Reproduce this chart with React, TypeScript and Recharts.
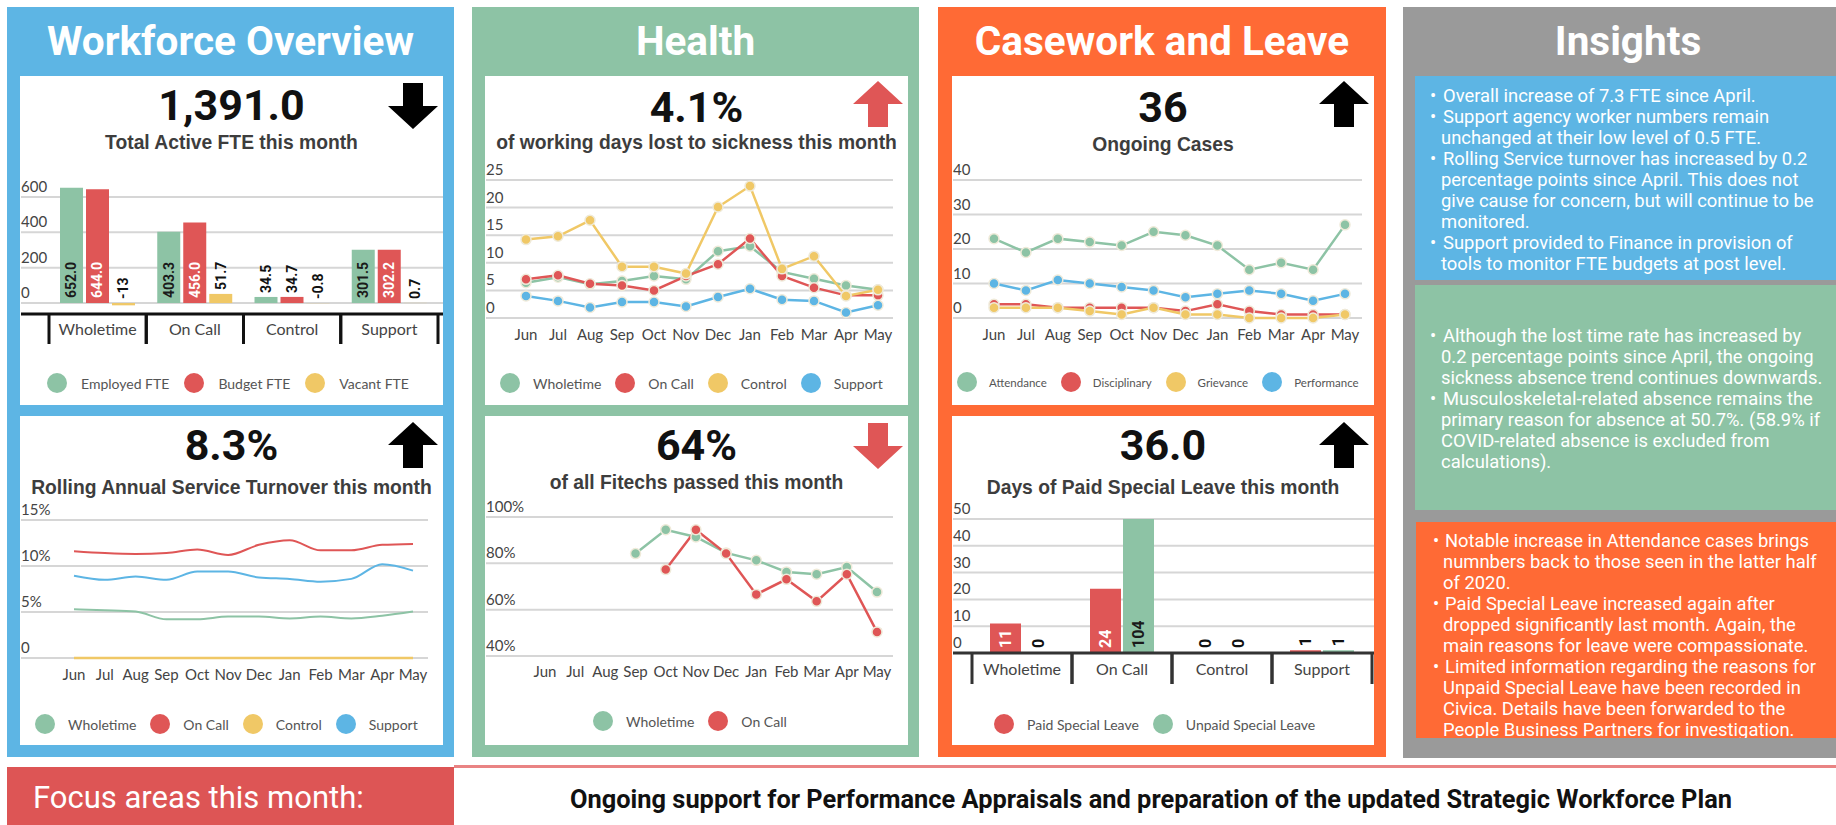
import React from 'react';
import { BarChart, Bar, LineChart, Line, XAxis, YAxis, CartesianGrid, LabelList } from 'recharts';

// ---------- colours ----------
const GREEN = '#8DC3A5';
const RED = '#DF5656';
const YELLOW = '#F0C866';
const BLUE = '#5DB5E4';
const ORANGE = '#FF6A35';
const GRAY = '#9A9A9A';
const HALO = '#EFEAD9';

const F_LATO = 'Lato, "Open Sans", sans-serif';
const F_ROBOTO = 'Roboto, "Noto Sans", sans-serif';
const F_ARIAL = '"Liberation Sans", Arial, sans-serif';

// ---------- data ----------
const fteCategories = ['Wholetime', 'On Call', 'Control', 'Support'];
const employedFTE = [652.0, 403.3, 34.5, 301.5];
const budgetFTE = [644.0, 456.0, 34.7, 302.2];
const vacantFTE = [-13, 51.7, -0.8, 0.7];

const months = ['Jun', 'Jul', 'Aug', 'Sep', 'Oct', 'Nov', 'Dec', 'Jan', 'Feb', 'Mar', 'Apr', 'May'];

const turnoverWholetime = [5.3, 5.2, 5.05, 4.2, 4.2, 4.5, 4.5, 4.3, 4.5, 4.3, 4.6, 5.05];
const turnoverOnCall = [11.6, 11.4, 11.3, 11.4, 11.8, 11.2, 12.3, 12.8, 11.7, 11.7, 12.3, 12.4];
const turnoverControl = [0, 0, 0, 0, 0, 0, 0, 0, 0, 0, 0, 0];
const turnoverSupport = [8.95, 8.5, 8.85, 8.5, 9.4, 9.4, 8.75, 8.6, 8.3, 8.6, 10.2, 9.5];

const sickWholetime = [6.4, 7.4, 6.1, 6.7, 7.6, 7.0, 12.1, 13.0, 8.35, 7.1, 5.9, 5.1];
const sickOnCall = [7.0, 7.75, 6.2, 5.9, 5.0, 7.6, 9.75, 14.4, 7.6, 5.5, 4.1, 4.1];
const sickControl = [14.2, 14.8, 17.7, 9.3, 9.3, 8.05, 20.1, 23.9, 8.9, 11.2, 4.0, 5.1];
const sickSupport = [4.0, 3.1, 1.9, 2.9, 2.9, 2.1, 3.8, 5.3, 3.3, 3.1, 1.0, 2.3];

const fitechWholetime = [null, null, null, 84.2, 94.5, 91.4, 84.5, 81.3, 76.3, 75.3, 78.4, 67.6];
const fitechOnCall = [null, null, null, null, 77.3, 94.5, 84.2, 66.6, 73.1, 63.6, 75.3, 50.4];

const casesAttendance = [23, 19, 23, 22, 21, 25, 24, 21, 14, 16, 14, 27];
const casesDisciplinary = [4, 4, 3, 3, 3, 3, 2, 4, 2, 1, 1, 1];
const casesGrievance = [3, 3, 3, 2, 1, 3, 1, 1, 0, 0, 0, 1];
const casesPerformance = [10, 8, 11, 10, 9, 8, 6, 7, 8, 7, 5, 7];

const leaveCategories = ['Wholetime', 'On Call', 'Control', 'Support'];
const paidLeave = [11, 24, 0, 1];
const unpaidLeave = [0, 104, 0, 1];

const fteTicks = [0, 200, 400, 600];
const turnoverTicks = [0, 5, 10, 15];
const sickTicks = [0, 5, 10, 15, 20, 25];
const fitechTicks = [40, 60, 80, 100];
const casesTicks = [0, 10, 20, 30, 40];
const leaveTicks = [0, 10, 20, 30, 40, 50];

const blueInsights = [
  ['Overall increase of 7.3 FTE since April.'],
  ['Support agency worker numbers remain', 'unchanged at their low level of 0.5 FTE.'],
  ['Rolling Service turnover has increased by 0.2', 'percentage points since April. This does not', 'give cause for concern, but will continue to be', 'monitored.'],
  ['Support provided to Finance in provision of', 'tools to monitor FTE budgets at post level.'],
];
const greenInsights = [
  ['Although the lost time rate has increased by', '0.2 percentage points since April, the ongoing', 'sickness absence trend continues downwards.'],
  ['Musculoskeletal-related absence remains the', 'primary reason for absence at 50.7%. (58.9% if', 'COVID-related absence is excluded from', 'calculations).'],
];
const orangeInsights = [
  ['Notable increase in Attendance cases brings', 'numnbers back to those seen in the latter half', 'of 2020.'],
  ['Paid Special Leave increased again after', 'dropped significantly last month. Again, the', 'main reasons for leave were compassionate.'],
  ['Limited information regarding the reasons for', 'Unpaid Special Leave have been recorded in', 'Civica. Details have been forwarded to the', 'People Business Partners for investigation.'],
];

// ---------- tables built from arrays ----------
const fteData = fteCategories.map((cat, i) => ({ cat, employed: employedFTE[i], budget: budgetFTE[i], vacant: vacantFTE[i] }));
const turnoverData = months.map((m, i) => ({ m, wholetime: turnoverWholetime[i], oncall: turnoverOnCall[i], control: turnoverControl[i], support: turnoverSupport[i] }));
const sickData = months.map((m, i) => ({ m, wholetime: sickWholetime[i], oncall: sickOnCall[i], control: sickControl[i], support: sickSupport[i] }));
const fitechData = months.map((m, i) => ({ m, wholetime: fitechWholetime[i], oncall: fitechOnCall[i] }));
const casesData = months.map((m, i) => ({ m, attendance: casesAttendance[i], disciplinary: casesDisciplinary[i], grievance: casesGrievance[i], performance: casesPerformance[i] }));
const leaveData = leaveCategories.map((cat, i) => ({ cat, paid: paidLeave[i], unpaid: unpaidLeave[i] }));

// ---------- helpers ----------
const fmt1 = (v: number) => v.toFixed(1);
const fmtVac = (v: number) => (Number.isInteger(v) ? String(v) : v.toFixed(1));
const fmtInt = (v: number) => String(v);
const fmtPct = (v: number) => (v === 0 ? '0' : `${v}%`);

function YTick(props: any) {
  const { y, payload, fmt } = props;
  return (
    <text x={1} y={y - 5} fontSize={15} fill="#444" fontFamily={F_LATO}>
      {fmt ? fmt(payload.value) : payload.value}
    </text>
  );
}

function MonthTick(props: any) {
  const { x, y, payload, dy = 16 } = props;
  return (
    <text x={x} y={y + dy} textAnchor="middle" dominantBaseline="central" fontSize={15} fill="#444" fontFamily={F_LATO}>
      {payload.value}
    </text>
  );
}

function CatTick(props: any) {
  const { x, y, payload, bw, sepH, labelDy, color } = props;
  return (
    <g>
      <line x1={x - bw / 2} x2={x - bw / 2} y1={y} y2={y + sepH} stroke={color} strokeWidth={3} />
      <line x1={x + bw / 2} x2={x + bw / 2} y1={y} y2={y + sepH} stroke={color} strokeWidth={3} />
      <text x={x} y={y + labelDy} textAnchor="middle" dominantBaseline="central" fontSize={16} fill="#444" fontFamily={F_LATO}>
        {payload.value}
      </text>
    </g>
  );
}

const makeBarLabel = (inColor: string, fontSize: number, fmt: (v: number) => string) => (p: any) => {
  const vb = p.viewBox || {};
  const x = p.x ?? vb.x;
  const y = p.y ?? vb.y;
  const w = p.width ?? vb.width;
  const h = p.height ?? vb.height;
  const v = Number(p.value);
  if (x == null || y == null) return null;
  const top = Math.min(y, y + h);
  const bot = Math.max(y, y + h);
  const str = fmt(v);
  const len = str.length * fontSize * 0.56 + 4;
  const cx = x + w / 2;
  const inside = v > 0 && bot - top >= len + 6;
  const sy = inside ? bot - 5 : top - 4;
  return (
    <text
      x={cx}
      y={sy}
      transform={`rotate(-90 ${cx} ${sy})`}
      textAnchor="start"
      dominantBaseline="central"
      fill={inside ? inColor : '#111'}
      fontSize={fontSize}
      fontWeight={700}
      fontFamily={F_ROBOTO}
    >
      {str}
    </text>
  );
};

// ---------- layout pieces ----------
const abs = (left: number, top: number, width: number, height: number, extra: React.CSSProperties = {}): React.CSSProperties => ({
  position: 'absolute', left, top, width, height, ...extra,
});

function Panel({ x, y, w, h, color, title }: any) {
  return (
    <div style={abs(x, y, w, h, { background: color })}>
      <div style={{ position: 'absolute', left: 0, top: 9, width: '100%', height: 50, lineHeight: '50px', textAlign: 'center', color: '#fff', fontFamily: F_ROBOTO, fontWeight: 700, fontSize: 40.5, whiteSpace: 'nowrap' }}>
        {title}
      </div>
    </div>
  );
}

function Card({ x, y, w, h }: any) {
  return <div style={abs(x, y, w, h, { background: '#fff' })} />;
}

function BigNum({ x, w, cy, text }: any) {
  return (
    <div style={abs(x, cy - 25, w, 50, { lineHeight: '50px', textAlign: 'center', fontFamily: F_ROBOTO, fontWeight: 700, fontSize: 43, color: '#111' })}>
      {text}
    </div>
  );
}

function Sub({ x, w, cy, text }: any) {
  return (
    <div style={abs(x, cy - 12, w, 24, { lineHeight: '24px', textAlign: 'center', fontFamily: F_ARIAL, fontWeight: 700, fontSize: 19.3, color: '#3d3d3d', whiteSpace: 'nowrap' })}>
      {text}
    </div>
  );
}

function Arrow({ x, y, up, color }: any) {
  const pts = up ? '25,0 50,23 35,23 35,46 15,46 15,23 0,23' : '15,0 35,0 35,23 50,23 25,46 0,23 15,23';
  return (
    <svg style={{ position: 'absolute', left: x, top: y }} width={50} height={46}>
      <polygon points={pts} fill={color} />
    </svg>
  );
}

function LegendRow({ left, cy, items, fontSize = 14, gap = 14, iconGap = 13 }: any) {
  return (
    <div style={{ position: 'absolute', left, top: cy - 10, height: 20, display: 'flex', alignItems: 'center', fontFamily: F_LATO, fontSize, color: '#555', whiteSpace: 'nowrap' }}>
      {items.map((it: any, i: number) => (
        <div key={i} style={{ display: 'flex', alignItems: 'center', marginLeft: i ? gap : 0 }}>
          <span style={{ display: 'inline-block', width: 20, height: 20, borderRadius: 10, background: it.color, marginRight: iconGap }} />
          <span>{it.name}</span>
        </div>
      ))}
    </div>
  );
}

function InsightBox({ x, y, w, h, color, items, firstTop, bulletX, textIndent }: any) {
  const lines: { t: string; bullet: boolean }[] = [];
  items.forEach((it: string[]) => it.forEach((t, j) => lines.push({ t, bullet: j === 0 })));
  return (
    <div style={abs(x, y, w, h, { background: color, overflow: 'hidden' })}>
      {lines.map((l, i) => (
        <div key={i} style={{ position: 'absolute', left: bulletX - x, top: firstTop - y + i * 21, height: 21, lineHeight: '21px', whiteSpace: 'nowrap', color: '#fff', fontFamily: F_ROBOTO, fontSize: 18.4 }}>
          {l.bullet ? <span style={{ display: 'inline-block', width: textIndent + 2 }}>•</span> : <span style={{ display: 'inline-block', width: textIndent }} />}
          {l.t}
        </div>
      ))}
    </div>
  );
}

const gridProps = { vertical: false, stroke: '#D6D6D6', strokeWidth: 2 };
const dotStyle = (c: string) => ({ r: 5, fill: c, stroke: HALO, strokeWidth: 1.5 });

export default function App() {
  return (
    <div style={{ position: 'absolute', left: 0, top: 0, width: 1836, height: 825, overflow: 'hidden', background: '#fff' }}>
      {/* ---------- panels ---------- */}
      <Panel x={7} y={7} w={447} h={750} color={BLUE} title="Workforce Overview" />
      <Panel x={472} y={7} w={447} h={750} color={GREEN} title="Health" />
      <Panel x={938} y={7} w={448} h={750} color={ORANGE} title="Casework and Leave" />
      <Panel x={1403} y={7} w={450} h={751} color={GRAY} title="Insights" />

      {/* ---------- cards ---------- */}
      <Card x={20} y={76} w={423} h={329} />
      <Card x={20} y={416} w={423} h={329} />
      <Card x={485} y={76} w={423} h={329} />
      <Card x={485} y={416} w={423} h={329} />
      <Card x={952} y={76} w={422} h={329} />
      <Card x={952} y={416} w={422} h={329} />

      {/* ---------- Workforce: FTE ---------- */}
      <BigNum x={20} w={423} cy={105} text="1,391.0" />
      <Sub x={20} w={423} cy={143} text="Total Active FTE this month" />
      <Arrow x={388} y={83} up={false} color="#000" />
      <div style={{ position: 'absolute', left: 20, top: 160 }}>
        <BarChart width={423} height={200} data={fteData} margin={{ top: 19, right: 0, bottom: 0, left: 0 }} barSize={23} barGap={3}>
          <CartesianGrid {...gridProps} horizontalValues={fteTicks} />
          <XAxis dataKey="cat" scale="band" interval={0} height={46} padding={{ left: 28, right: 5 }} tickSize={0} tickMargin={0}
            axisLine={{ stroke: '#111', strokeWidth: 3 }} tickLine={false}
            tick={<CatTick bw={97.25} sepH={30} labelDy={14} color="#111" />} />
          <YAxis type="number" domain={[-62, 702]} ticks={fteTicks} width={1} axisLine={false} tickLine={false} tick={<YTick />} />
          <Bar dataKey="employed" fill={GREEN} isAnimationActive={false}>
            <LabelList dataKey="employed" content={makeBarLabel('#1a1a1a', 14, fmt1)} />
          </Bar>
          <Bar dataKey="budget" fill={RED} isAnimationActive={false}>
            <LabelList dataKey="budget" content={makeBarLabel('#fff', 14, fmt1)} />
          </Bar>
          <Bar dataKey="vacant" fill={YELLOW} isAnimationActive={false}>
            <LabelList dataKey="vacant" content={makeBarLabel('#1a1a1a', 14, fmtVac)} />
          </Bar>
        </BarChart>
      </div>
      <LegendRow left={47} cy={383} iconGap={14} gap={15}
        items={[{ name: 'Employed FTE', color: GREEN }, { name: 'Budget FTE', color: RED }, { name: 'Vacant FTE', color: YELLOW }]} />

      {/* ---------- Workforce: turnover ---------- */}
      <BigNum x={20} w={423} cy={445} text="8.3%" />
      <Sub x={20} w={423} cy={488} text="Rolling Annual Service Turnover this month" />
      <Arrow x={388} y={422} up={true} color="#000" />
      <div style={{ position: 'absolute', left: 20, top: 500 }}>
        <LineChart width={408} height={188} data={turnoverData} margin={{ top: 20, right: 0, bottom: 0, left: 0 }}>
          <CartesianGrid {...gridProps} horizontalValues={turnoverTicks} />
          <XAxis dataKey="m" scale="point" interval={0} height={30} padding={{ left: 53, right: 15 }} tickSize={0} tickMargin={0} axisLine={false} tickLine={false} tick={<MonthTick />} />
          <YAxis type="number" domain={[0, 15]} ticks={turnoverTicks} width={1} axisLine={false} tickLine={false} tick={<YTick fmt={fmtPct} />} />
          <Line type="monotone" dataKey="wholetime" stroke={GREEN} strokeWidth={2} dot={false} isAnimationActive={false} />
          <Line type="monotone" dataKey="oncall" stroke={RED} strokeWidth={2} dot={false} isAnimationActive={false} />
          <Line type="monotone" dataKey="control" stroke={YELLOW} strokeWidth={2.5} dot={false} isAnimationActive={false} />
          <Line type="monotone" dataKey="support" stroke={BLUE} strokeWidth={2} dot={false} isAnimationActive={false} />
        </LineChart>
      </div>
      <LegendRow left={35} cy={724}
        items={[{ name: 'Wholetime', color: GREEN }, { name: 'On Call', color: RED }, { name: 'Control', color: YELLOW }, { name: 'Support', color: BLUE }]} />

      {/* ---------- Health: sickness ---------- */}
      <BigNum x={485} w={423} cy={107} text="4.1%" />
      <Sub x={485} w={423} cy={143} text="of working days lost to sickness this month" />
      <Arrow x={853} y={81} up={true} color={RED} />
      <div style={{ position: 'absolute', left: 485, top: 160 }}>
        <LineChart width={408} height={188} data={sickData} margin={{ top: 20, right: 0, bottom: 0, left: 0 }}>
          <CartesianGrid {...gridProps} horizontalValues={sickTicks} />
          <XAxis dataKey="m" scale="point" interval={0} height={30} padding={{ left: 40, right: 15 }} tickSize={0} tickMargin={0} axisLine={false} tickLine={false} tick={<MonthTick />} />
          <YAxis type="number" domain={[0, 25]} ticks={sickTicks} width={1} axisLine={false} tickLine={false} tick={<YTick />} />
          <Line type="linear" dataKey="wholetime" stroke={GREEN} strokeWidth={2.5} dot={dotStyle(GREEN)} activeDot={false} isAnimationActive={false} />
          <Line type="linear" dataKey="oncall" stroke={RED} strokeWidth={2.5} dot={dotStyle(RED)} activeDot={false} isAnimationActive={false} />
          <Line type="linear" dataKey="control" stroke={YELLOW} strokeWidth={2.5} dot={dotStyle(YELLOW)} activeDot={false} isAnimationActive={false} />
          <Line type="linear" dataKey="support" stroke={BLUE} strokeWidth={2.5} dot={dotStyle(BLUE)} activeDot={false} isAnimationActive={false} />
        </LineChart>
      </div>
      <LegendRow left={500} cy={383}
        items={[{ name: 'Wholetime', color: GREEN }, { name: 'On Call', color: RED }, { name: 'Control', color: YELLOW }, { name: 'Support', color: BLUE }]} />

      {/* ---------- Health: fitech ---------- */}
      <BigNum x={485} w={423} cy={445} text="64%" />
      <Sub x={485} w={423} cy={483} text="of all Fitechs passed this month" />
      <Arrow x={853} y={423} up={false} color={RED} />
      <div style={{ position: 'absolute', left: 485, top: 497 }}>
        <LineChart width={408} height={189} data={fitechData} margin={{ top: 20, right: 0, bottom: 0, left: 0 }}>
          <CartesianGrid {...gridProps} horizontalValues={fitechTicks} />
          <XAxis dataKey="m" scale="point" interval={0} height={30} padding={{ left: 59, right: 16 }} tickSize={0} tickMargin={0} axisLine={false} tickLine={false} tick={<MonthTick dy={15} />} />
          <YAxis type="number" domain={[40, 100]} ticks={fitechTicks} width={1} axisLine={false} tickLine={false} tick={<YTick fmt={fmtPct} />} />
          <Line type="linear" dataKey="wholetime" stroke={GREEN} strokeWidth={2.5} dot={dotStyle(GREEN)} activeDot={false} isAnimationActive={false} />
          <Line type="linear" dataKey="oncall" stroke={RED} strokeWidth={2.5} dot={dotStyle(RED)} activeDot={false} isAnimationActive={false} />
        </LineChart>
      </div>
      <LegendRow left={593} cy={721}
        items={[{ name: 'Wholetime', color: GREEN }, { name: 'On Call', color: RED }]} />

      {/* ---------- Casework: cases ---------- */}
      <BigNum x={952} w={422} cy={107} text="36" />
      <Sub x={952} w={422} cy={145} text="Ongoing Cases" />
      <Arrow x={1319} y={81} up={true} color="#000" />
      <div style={{ position: 'absolute', left: 952, top: 160 }}>
        <LineChart width={410} height={188} data={casesData} margin={{ top: 20, right: 0, bottom: 0, left: 0 }}>
          <CartesianGrid {...gridProps} horizontalValues={casesTicks} />
          <XAxis dataKey="m" scale="point" interval={0} height={30} padding={{ left: 41, right: 17 }} tickSize={0} tickMargin={0} axisLine={false} tickLine={false} tick={<MonthTick />} />
          <YAxis type="number" domain={[0, 40]} ticks={casesTicks} width={1} axisLine={false} tickLine={false} tick={<YTick />} />
          <Line type="linear" dataKey="attendance" stroke={GREEN} strokeWidth={2.5} dot={dotStyle(GREEN)} activeDot={false} isAnimationActive={false} />
          <Line type="linear" dataKey="disciplinary" stroke={RED} strokeWidth={2.5} dot={dotStyle(RED)} activeDot={false} isAnimationActive={false} />
          <Line type="linear" dataKey="grievance" stroke={YELLOW} strokeWidth={2.5} dot={dotStyle(YELLOW)} activeDot={false} isAnimationActive={false} />
          <Line type="linear" dataKey="performance" stroke={BLUE} strokeWidth={2.5} dot={dotStyle(BLUE)} activeDot={false} isAnimationActive={false} />
        </LineChart>
      </div>
      <LegendRow left={957} cy={382} fontSize={11.5} iconGap={12} gap={14}
        items={[{ name: 'Attendance', color: GREEN }, { name: 'Disciplinary', color: RED }, { name: 'Grievance', color: YELLOW }, { name: 'Performance', color: BLUE }]} />

      {/* ---------- Casework: leave ---------- */}
      <BigNum x={952} w={422} cy={445} text="36.0" />
      <Sub x={952} w={422} cy={488} text="Days of Paid Special Leave this month" />
      <Arrow x={1319} y={422} up={true} color="#000" />
      <div style={{ position: 'absolute', left: 952, top: 499 }}>
        <BarChart width={422} height={194} data={leaveData} margin={{ top: 20, right: 0, bottom: 0, left: 0 }} barSize={31} barGap={2}>
          <CartesianGrid {...gridProps} horizontalValues={leaveTicks} />
          <XAxis dataKey="cat" scale="band" interval={0} height={40} padding={{ left: 19, right: 2 }} tickSize={0} tickMargin={0}
            axisLine={{ stroke: '#333', strokeWidth: 3 }} tickLine={false}
            tick={<CatTick bw={100} sepH={31} labelDy={15} color="#333" />} />
          <YAxis type="number" domain={[0, 50]} ticks={leaveTicks} allowDataOverflow width={1} axisLine={false} tickLine={false} tick={<YTick />} />
          <Bar dataKey="paid" fill={RED} minPointSize={1} isAnimationActive={false}>
            <LabelList dataKey="paid" content={makeBarLabel('#fff', 16, fmtInt)} />
          </Bar>
          <Bar dataKey="unpaid" fill={GREEN} minPointSize={1} isAnimationActive={false}>
            <LabelList dataKey="unpaid" content={makeBarLabel('#1a1a1a', 16, fmtInt)} />
          </Bar>
        </BarChart>
      </div>
      <LegendRow left={994} cy={724}
        items={[{ name: 'Paid Special Leave', color: RED }, { name: 'Unpaid Special Leave', color: GREEN }]} />

      {/* ---------- Insights ---------- */}
      <InsightBox x={1415} y={76} w={440} h={204} color={BLUE} items={blueInsights} firstTop={84.5} bulletX={1430} textIndent={11} />
      <InsightBox x={1415} y={285} w={440} h={225} color={GREEN} items={greenInsights} firstTop={324.5} bulletX={1430} textIndent={11} />
      <InsightBox x={1416} y={522} w={440} h={216} color={ORANGE} items={orangeInsights} firstTop={529.5} bulletX={1433} textIndent={10} />

      {/* ---------- Bottom focus bar ---------- */}
      <div style={abs(454, 765, 1382, 3, { background: '#E98383' })} />
      <div style={abs(7, 767, 447, 60, { background: '#DD5555' })} />
      <div style={abs(33, 778, 420, 40, { lineHeight: '40px', color: '#fff', fontFamily: F_ROBOTO, fontSize: 31, whiteSpace: 'nowrap' })}>
        Focus areas this month:
      </div>
      <div style={abs(466, 784, 1370, 30, { lineHeight: '30px', textAlign: 'center', color: '#111', fontFamily: F_ROBOTO, fontWeight: 700, fontSize: 25.4, whiteSpace: 'nowrap' })}>
        Ongoing support for Performance Appraisals and preparation of the updated Strategic Workforce Plan
      </div>
    </div>
  );
}
